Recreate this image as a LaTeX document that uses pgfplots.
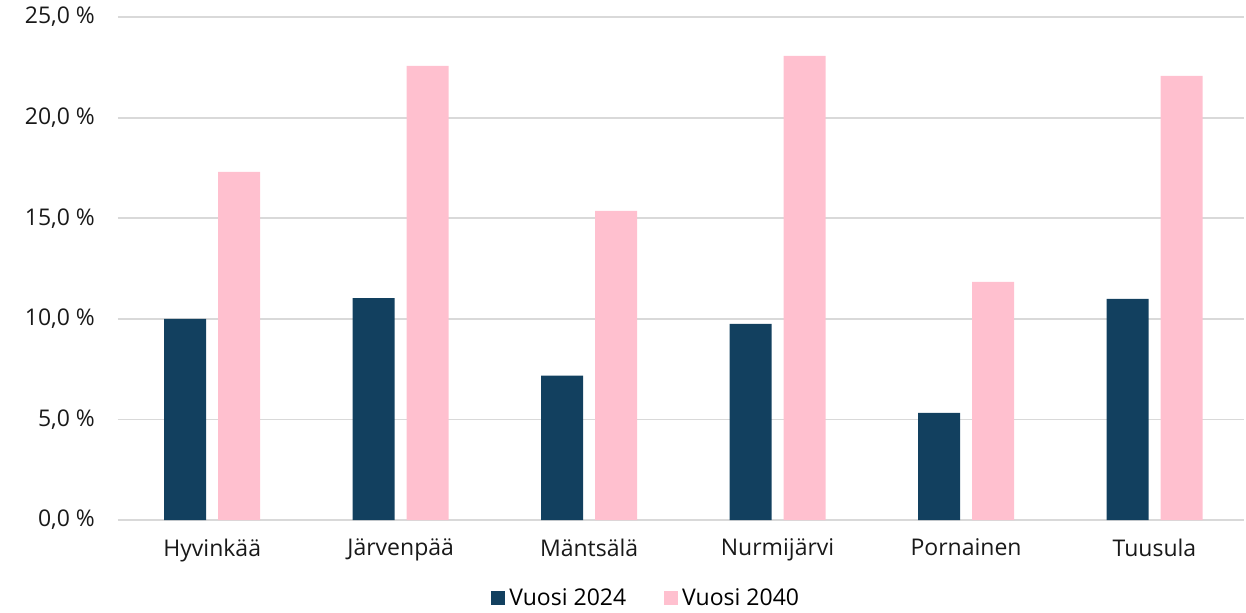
\documentclass[border=0pt]{standalone}
\usepackage{pgfplots}
\pgfplotsset{compat=1.18}
\usepackage{fontspec}
\setmainfont{Open Sans}
\definecolor{cblue}{HTML}{12405F}
\definecolor{cpink}{HTML}{FFC0CF}
\definecolor{cgrid}{HTML}{D9D9D9}
\begin{document}
\begin{tikzpicture}
\path[use as bounding box] (-59pt,-46pt) rectangle (564pt,260pt);
\begin{axis}[
  at={(0,0)}, anchor=south west,
  scale only axis,
  width=563pt, height=251.5pt,
  ybar, bar width=21pt,
  xmin=-0.5, xmax=5.475,
  ymin=0, ymax=25,
  xtick=data,
  xticklabels={Hyvinkää,Järvenpää,Mäntsälä,Nurmijärvi,Pornainen,Tuusula},
  ytick={0,5,10,15,20,25},
  yticklabels={{0,0 \%},{5,0 \%},{10,0 \%},{15,0 \%},{20,0 \%},{25,0 \%}},
  ymajorgrids, grid style={cgrid, line width=0.9pt},
  axis x line*=bottom,
  axis y line*=left,
  x axis line style={draw=cgrid, line width=1pt, -},
  y axis line style={draw=none},
  major tick length=0pt,
  tick style={draw=none},
  ticklabel style={font=\fontsize{11.5pt}{13pt}\selectfont, text=black!90},
  yticklabel style={xshift=-8pt},
  xticklabel style={yshift=-6pt},
  legend style={at={(0.47,-0.156)}, anchor=center, draw=none, legend columns=2,
    font=\fontsize{11.5pt}{13pt}\selectfont, /tikz/every even column/.append style={column sep=17pt},
    inner sep=0pt},
  legend image code/.code={\fill[#1] (0pt,-3.5pt) rectangle (7pt,3.5pt);},
]
\addplot[fill=cblue, draw=none, bar shift=-13.5pt] coordinates {(0,10.0) (1,11.03) (2,7.17) (3,9.75) (4,5.32) (5,10.99)};
\addplot[fill=cpink, draw=none, bar shift=13.5pt] coordinates {(0,17.3) (1,22.57) (2,15.37) (3,23.07) (4,11.84) (5,22.08)};
\legend{Vuosi 2024, Vuosi 2040}
\end{axis}
\end{tikzpicture}
\end{document}
